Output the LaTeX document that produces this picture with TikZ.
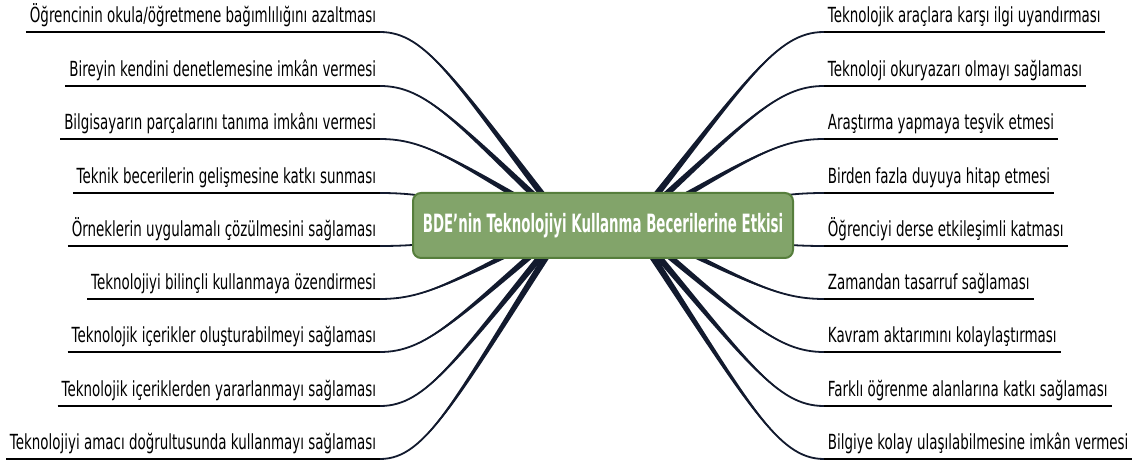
\documentclass[tikz,border=0pt]{standalone}
\usepackage{fontspec}
\setmainfont[FakeStretch=0.646]{DejaVu Sans}
\newfontfamily\hubfont[FakeStretch=0.53]{DejaVu Sans}
\definecolor{hubgreen}{RGB}{130,164,106}
\definecolor{hubedge}{RGB}{86,126,60}
\definecolor{twigcol}{RGB}{18,26,46}
\usetikzlibrary{calc,backgrounds}

% tapered branch from a label corner to a point of the hub
\newcommand\twig[2]{%
  \path[twigfill] let \p1=(#1), \p2=(#2),
    \p3=({\x1+0.25*(\x2-\x1)},\y1),
    \p4=({\x1+0.4*(\x2-\x1)},{\y1+0.25*(\y2-\y1)}),
    \n1={veclen(\x2-\x4,\y2-\y4)},
    \p5=({-1.8*(\y2-\y4)/\n1},{1.8*(\x2-\x4)/\n1})
  in (\p1) .. controls (\p3) and ($(\p4)+0.5*(\p5)$) .. ($(\p2)+(\p5)$)
     -- ($(\p2)-(\p5)$) .. controls ($(\p4)-0.5*(\p5)$) and (\p3) .. (\p1) -- cycle;
  \draw[twig] let \p1=(#1), \p2=(#2),
    \p3=({\x1+0.25*(\x2-\x1)},\y1),
    \p4=({\x1+0.4*(\x2-\x1)},{\y1+0.25*(\y2-\y1)})
  in (\p1) .. controls (\p3) and (\p4) .. (\p2);
}

\begin{document}
\begin{tikzpicture}[
  x=0.5pt, y=-0.5pt,
  every node/.style={font=\fontsize{10.4pt}{12pt}\selectfont},
  hubbox/.style={draw=hubedge,line width=1pt,fill=hubgreen,rounded corners=4pt,
                 minimum width=190pt,minimum height=32.5pt,text=white,
                 font=\hubfont\bfseries\fontsize{12.6pt}{14pt}\selectfont},
  leaf/.style={inner xsep=1.75pt,inner ysep=0pt,text depth=4.5pt},
  uline/.style={line width=0.9pt,black},
  twig/.style={line width=0.9pt,twigcol},
  twigfill/.style={fill=twigcol},
]
  \useasboundingbox (0,0) rectangle (1133,464);

  % central topic
  \node[hubbox] (hub) at (603,225.5)
    {BDE’nin Teknolojiyi Kullanma Becerilerine Etkisi};
  \coordinate (hubL) at ($(hub.center)+(-37,0)$);
  \coordinate (hubR) at ($(hub.center)+(29,0)$);

  % left branches
  \node[leaf,anchor=south east] (l1) at (380,32)  {Öğrencinin okula/öğretmene bağımlılığını azaltması};
  \node[leaf,anchor=south east] (l2) at (380,86)  {Bireyin kendini denetlemesine imkân vermesi};
  \node[leaf,anchor=south east] (l3) at (380,139) {Bilgisayarın parçalarını tanıma imkânı vermesi};
  \node[leaf,anchor=south east] (l4) at (380,193) {Teknik becerilerin gelişmesine katkı sunması};
  \node[leaf,anchor=south east] (l5) at (380,246) {Örneklerin uygulamalı çözülmesini sağlaması};
  \node[leaf,anchor=south east] (l6) at (380,299) {Teknolojiyi bilinçli kullanmaya özendirmesi};
  \node[leaf,anchor=south east] (l7) at (380,352) {Teknolojik içerikler oluşturabilmeyi sağlaması};
  \node[leaf,anchor=south east] (l8) at (380,406) {Teknolojik içeriklerden yararlanmayı sağlaması};
  \node[leaf,anchor=south east] (l9) at (380,459) {Teknolojiyi amacı doğrultusunda kullanmayı sağlaması};

  % right branches
  \node[leaf,anchor=south west] (r1) at (824,32)  {Teknolojik araçlara karşı ilgi uyandırması};
  \node[leaf,anchor=south west] (r2) at (824,86)  {Teknoloji okuryazarı olmayı sağlaması};
  \node[leaf,anchor=south west] (r3) at (824,139) {Araştırma yapmaya teşvik etmesi};
  \node[leaf,anchor=south west] (r4) at (824,193) {Birden fazla duyuya hitap etmesi};
  \node[leaf,anchor=south west] (r5) at (824,246) {Öğrenciyi derse etkileşimli katması};
  \node[leaf,anchor=south west] (r6) at (824,299) {Zamandan tasarruf sağlaması};
  \node[leaf,anchor=south west] (r7) at (824,352) {Kavram aktarımını kolaylaştırması};
  \node[leaf,anchor=south west] (r8) at (824,406) {Farklı öğrenme alanlarına katkı sağlaması};
  \node[leaf,anchor=south west] (r9) at (824,459) {Bilgiye kolay ulaşılabilmesine imkân vermesi};

  % underlines
  \draw[uline] (l1.south west) -- (l1.south east);
  \draw[uline] (l2.south west) -- (l2.south east);
  \draw[uline] (l3.south west) -- (l3.south east);
  \draw[uline] (l4.south west) -- (l4.south east);
  \draw[uline] (l5.south west) -- (l5.south east);
  \draw[uline] (l6.south west) -- (l6.south east);
  \draw[uline] (l7.south west) -- (l7.south east);
  \draw[uline] (l8.south west) -- (l8.south east);
  \draw[uline] (l9.south west) -- (l9.south east);
  \draw[uline] (r1.south west) -- (r1.south east);
  \draw[uline] (r2.south west) -- (r2.south east);
  \draw[uline] (r3.south west) -- (r3.south east);
  \draw[uline] (r4.south west) -- (r4.south east);
  \draw[uline] (r5.south west) -- (r5.south east);
  \draw[uline] (r6.south west) -- (r6.south east);
  \draw[uline] (r7.south west) -- (r7.south east);
  \draw[uline] (r8.south west) -- (r8.south east);
  \draw[uline] (r9.south west) -- (r9.south east);

  % branches behind the hub
  \begin{scope}[on background layer]
    \twig{l1.south east}{hubL}
    \twig{l2.south east}{hubL}
    \twig{l3.south east}{hubL}
    \twig{l4.south east}{hubL}
    \twig{l5.south east}{hubL}
    \twig{l6.south east}{hubL}
    \twig{l7.south east}{hubL}
    \twig{l8.south east}{hubL}
    \twig{l9.south east}{hubL}
    \twig{r1.south west}{hubR}
    \twig{r2.south west}{hubR}
    \twig{r3.south west}{hubR}
    \twig{r4.south west}{hubR}
    \twig{r5.south west}{hubR}
    \twig{r6.south west}{hubR}
    \twig{r7.south west}{hubR}
    \twig{r8.south west}{hubR}
    \twig{r9.south west}{hubR}
  \end{scope}
\end{tikzpicture}
\end{document}
